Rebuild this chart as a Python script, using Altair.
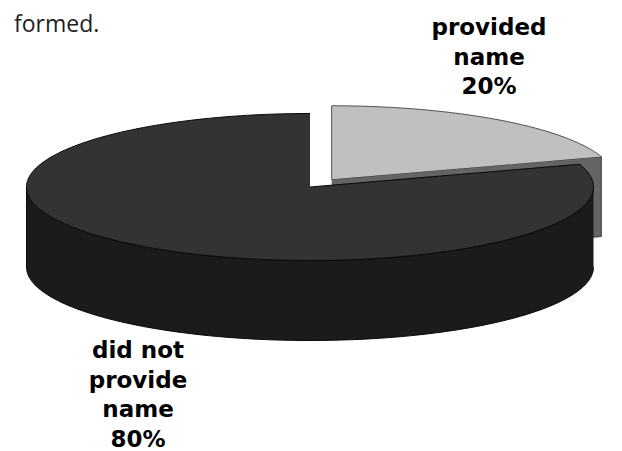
import math
import altair as alt
import pandas as pd

# ---- data ----
categories = ["provided name", "did not provide name"]
label_names = ["provided\nname", "did not\nprovide\nname"]
values = [20, 80]
note_text = "formed."

# ---- geometry / style (pixels) ----
W, H = 622, 451
A_PX, B_PX = 283.5, 73.5      # ellipse semi-axes of the pie top
CX, CY = 310, 187             # pie centre on screen
DEPTH_PX = 80                 # pie thickness
EXPLODE = 0.13                # offset of the exploded slice (radius units)
depth = DEPTH_PX / B_PX

total = sum(values)
rows = []


def add(part, pts):
    for i, (u, v) in enumerate(pts):
        rows.append({"part": part, "i": i, "u": u, "v": v})


def rim(theta_deg, du, dv, dz=0.0):
    t = math.radians(theta_deg)
    return (du + math.sin(t), dv + math.cos(t) - dz)


def arc_pts(t0, t1, du, dv, dz=0.0):
    n = max(2, int(abs(t1 - t0)) + 1)
    return [rim(t0 + (t1 - t0) * k / (n - 1), du, dv, dz) for k in range(n)]


# slice angles, clockwise from 12 o'clock
t_light0, t_light1 = 0.0, 360.0 * values[0] / total
t_dark0, t_dark1 = t_light1, 360.0

mid = math.radians((t_light0 + t_light1) / 2)
du, dv = EXPLODE * math.sin(mid), EXPLODE * math.cos(mid)

# exploded slice: cut face at its end angle, then its top
add("light_cut", [(du, dv), rim(t_light1, du, dv), rim(t_light1, du, dv, depth), (du, dv - depth)])
add("light_top", [(du, dv)] + arc_pts(t_light0, t_light1, du, dv))
# large slice: visible front side, then its top
front0, front1 = max(90.0, t_dark0), min(270.0, t_dark1)
add("dark_side", arc_pts(front0, front1, 0, 0) + arc_pts(front1, front0, 0, 0, depth))
add("dark_top", [(0.0, 0.0)] + arc_pts(t_dark0, t_dark1, 0, 0))

df = pd.DataFrame(rows)

u0, u1 = -CX / A_PX, (W - CX) / A_PX
v_top, v_bot = CY / B_PX, (CY - H) / B_PX

parts = ["light_cut", "light_top", "dark_side", "dark_top"]
fills = ["#646464", "#c0c0c0", "#1b1b1b", "#333333"]
strokes = {"light_cut": "#3a3a3a", "light_top": "#505050", "dark_side": "#080808", "dark_top": "#080808"}

x_enc = alt.X("u:Q", scale=alt.Scale(domain=[u0, u1], range=[0, W], zero=False, nice=False), axis=None)
y_enc = alt.Y("v:Q", scale=alt.Scale(domain=[v_bot, v_top], range=[H, 0], zero=False, nice=False), axis=None)
c_enc = alt.Color("part:N", scale=alt.Scale(domain=parts, range=fills), legend=None)

base = alt.Chart(df)
layers = []
for p in parts:
    layers.append(
        base.transform_filter(alt.datum.part == p)
        .mark_line(filled=True, stroke=strokes[p], strokeWidth=1, strokeJoin="round", interpolate="linear")
        .encode(x=x_enc, y=y_enc, color=c_enc, order=alt.Order("i:Q"))
    )

lab_df = pd.DataFrame({
    "text": [f"{n}\n{v}%" for n, v in zip(label_names, values)],
    "cat": categories,
})

label_pos = {"provided name": (489, 35), "did not provide name": (138, 358)}
for cat, (lx, ly) in label_pos.items():
    layers.append(
        alt.Chart(lab_df).transform_filter(alt.datum.cat == cat)
        .mark_text(font="DejaVu Sans", fontSize=23, fontWeight="bold", lineBreak="\n",
                   lineHeight=29.5, align="center", baseline="alphabetic", color="#000000")
        .encode(text="text:N", x=alt.value(lx), y=alt.value(ly))
    )

note_df = pd.DataFrame({"text": [note_text]})
layers.append(
    alt.Chart(note_df)
    .mark_text(font="Open Sans", fontSize=23, align="left", baseline="alphabetic", color="#1e1e1e")
    .encode(text="text:N", x=alt.value(14), y=alt.value(32))
)

chart = (
    alt.layer(*layers)
    .properties(width=W, height=H, padding=0, autosize=alt.AutoSizeParams(type="none"), background="white")
    .configure_view(stroke=None)
)

chart.save("out.html", embed_options={"renderer": "svg", "actions": False})
